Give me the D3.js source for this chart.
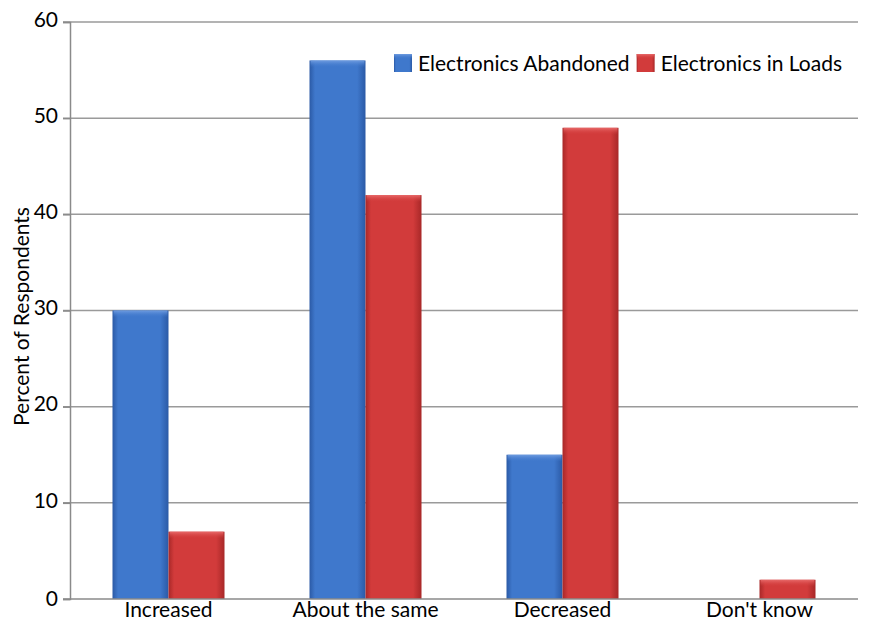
<!DOCTYPE html>
<html>
<head>
<meta charset="utf-8">
<script src="https://cdn.jsdelivr.net/npm/d3@7/dist/d3.min.js"></script>
<style>
  html, body { margin: 0; padding: 0; background: #fff; }
  text { font-family: Lato, "Open Sans", sans-serif; fill: #000; }
</style>
</head>
<body>
<svg id="chart" width="880" height="623"></svg>
<script>
// Survey responses: change in electronics abandoned vs. electronics in loads
const categories = ["Increased", "About the same", "Decreased", "Don't know"];
const seriesNames = ["Electronics Abandoned", "Electronics in Loads"];
const abandoned = [30, 56, 15, 0];
const inLoads = [7, 42, 49, 2];
const yTicks = [0, 10, 20, 30, 40, 50, 60];

const svg = d3.select("#chart");
const margin = { left: 70, right: 22, top: 22, bottom: 24 };
const W = 880, H = 623;
const plotW = W - margin.left - margin.right;
const plotH = H - margin.top - margin.bottom;
const FONT = "Lato, 'Open Sans', sans-serif";

const g = svg.append("g").attr("transform", `translate(${margin.left},${margin.top})`);

const x0 = d3.scaleBand().domain(categories).range([0, plotW]).paddingInner(0).paddingOuter(0);
const x1 = d3.scaleBand().domain(seriesNames).range([0, 112]);
const groupOffset = (x0.bandwidth() - 112) / 2;
const y = d3.scaleLinear().domain([0, 60]).range([plotH, 0]);

// Gradients: darker edges, lighter middle, like a glossy cylinder
const defs = svg.append("defs");
function hGrad(id, edge, mid) {
  const gr = defs.append("linearGradient").attr("id", id).attr("x1", 0).attr("x2", 1).attr("y1", 0).attr("y2", 0);
  gr.append("stop").attr("offset", "0%").attr("stop-color", edge);
  gr.append("stop").attr("offset", "10%").attr("stop-color", mid);
  gr.append("stop").attr("offset", "85%").attr("stop-color", mid);
  gr.append("stop").attr("offset", "100%").attr("stop-color", edge);
}
hGrad("gBlue", "#2b5aa6", "#3f78cc");
hGrad("gRed", "#a82828", "#d23b3b");
function vCap(id, top, bottom) {
  const gr = defs.append("linearGradient").attr("id", id).attr("x1", 0).attr("x2", 0).attr("y1", 0).attr("y2", 1);
  gr.append("stop").attr("offset", "0%").attr("stop-color", top);
  gr.append("stop").attr("offset", "100%").attr("stop-color", bottom).attr("stop-opacity", 0);
}
vCap("capBlue", "#6f9ce0", "#3f78cc");
vCap("capRed", "#e86a6a", "#d23b3b");

// Gridlines
g.append("g").selectAll("line").data(yTicks.filter(t => t > 0)).join("line")
  .attr("x1", -7).attr("x2", plotW)
  .attr("y1", d => y(d)).attr("y2", d => y(d))
  .attr("stroke", "#9a9a9a").attr("stroke-width", 1.5);

// Y axis
const yAxis = d3.axisLeft(y).tickValues(yTicks).tickSize(7).tickPadding(5);
const ya = g.append("g").call(yAxis);
ya.select(".domain").attr("stroke", "#8a8a8a").attr("stroke-width", 1.5);
ya.selectAll(".tick line").attr("stroke", "#8a8a8a").attr("stroke-width", 1.5);
ya.selectAll(".tick text").style("font-size", "21px").style("font-family", FONT).attr("dy", "0.2em");
ya.selectAll(".tick").filter(d => d === 0).select("text").attr("dy", "0.3em");

// Bars
const data = categories.map((c, i) => ({ cat: c, vals: [abandoned[i], inLoads[i]] }));
const groups = g.append("g").selectAll("g").data(data).join("g")
  .attr("transform", d => `translate(${x0(d.cat) + groupOffset},0)`);
groups.each(function(d) {
  const sel = d3.select(this);
  d.vals.forEach((v, k) => {
    if (v <= 0) return;
    const bx = x1(seriesNames[k]), bw = x1.bandwidth();
    sel.append("rect").attr("x", bx).attr("y", y(v)).attr("width", bw).attr("height", y(0) - y(v))
      .attr("fill", k === 0 ? "url(#gBlue)" : "url(#gRed)");
    sel.append("rect").attr("x", bx + 1).attr("y", y(v)).attr("width", bw - 2).attr("height", Math.min(7, y(0) - y(v)))
      .attr("fill", k === 0 ? "url(#capBlue)" : "url(#capRed)");
  });
});

// X axis
const xAxis = d3.axisBottom(x0).tickSize(0).tickPadding(3);
const xa = g.append("g").attr("transform", `translate(0,${plotH})`).call(xAxis);
xa.select(".domain").attr("stroke", "#8a8a8a").attr("stroke-width", 1.5).attr("d", `M-7,0H${plotW}`);
xa.selectAll(".tick text").style("font-size", "21px").style("font-family", FONT);

// Y axis title
svg.append("text")
  .attr("transform", `translate(29,${margin.top + plotH / 2 + 6}) rotate(-90)`)
  .attr("text-anchor", "middle")
  .style("font-size", "21px")
  .text("Percent of Respondents");

// Legend
const legend = svg.append("g").attr("transform", "translate(394,54)");
const legendItems = [
  { name: seriesNames[0], fill: "url(#gBlue)", cap: "url(#capBlue)" },
  { name: seriesNames[1], fill: "url(#gRed)", cap: "url(#capRed)" }
];
let lx = 0;
legendItems.forEach(it => {
  legend.append("rect").attr("x", lx).attr("y", 0).attr("width", 18).attr("height", 18).attr("fill", it.fill);
  legend.append("rect").attr("x", lx).attr("y", 0).attr("width", 18).attr("height", 5).attr("fill", it.cap);
  const t = legend.append("text").attr("x", lx + 24).attr("y", 17).style("font-size", "21px").text(it.name);
  lx += 24 + t.node().getComputedTextLength() + 7;
});
</script>
</body>
</html>
